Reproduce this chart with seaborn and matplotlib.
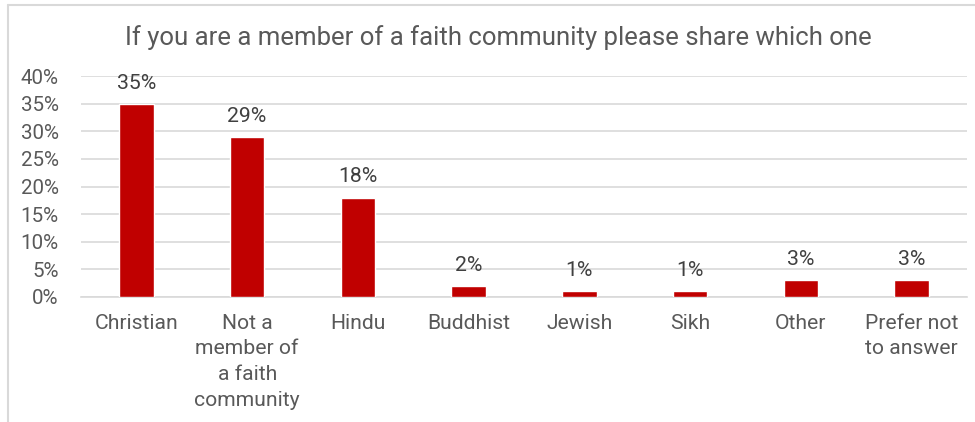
import matplotlib
matplotlib.use("Agg")
import matplotlib.pyplot as plt
from matplotlib.lines import Line2D
from matplotlib.ticker import FuncFormatter, MultipleLocator
import seaborn as sns
import pandas as pd

# Survey responses: share of respondents per faith community
categories = [
    "Christian",
    "Not a\nmember of\na faith\ncommunity",
    "Hindu",
    "Buddhist",
    "Jewish",
    "Sikh",
    "Other",
    "Prefer not\nto answer",
]
shares = [0.35, 0.29, 0.18, 0.02, 0.01, 0.01, 0.03, 0.03]
title = "If you are a member of a faith community please share which one"

sns.set_theme(style="white")
plt.rcParams["font.family"] = ["Roboto", "DejaVu Sans"]

df = pd.DataFrame({"category": categories, "share": shares})

fig = plt.figure(figsize=(9.75, 4.22), dpi=100)
ax = fig.add_axes([81 / 975, 1 - 297 / 422, (967 - 81) / 975, (297 - 76) / 422])

sns.barplot(data=df, x="category", y="share", color="#c00000",
            saturation=1, width=0.31, ax=ax, zorder=3)

ax.set_ylim(0, 0.40)
ax.yaxis.set_major_locator(MultipleLocator(0.05))
ax.yaxis.set_major_formatter(FuncFormatter(lambda v, _: f"{v * 100:.0f}%"))
ax.grid(axis="y", color="#d9d9d9", linewidth=1.2, zorder=0)
ax.set_axisbelow(True)
for side in ("top", "right", "left"):
    ax.spines[side].set_visible(False)
ax.spines["bottom"].set_color("#d9d9d9")
ax.spines["bottom"].set_linewidth(1.2)
ax.set_xlabel("")
ax.set_ylabel("")
ax.tick_params(axis="y", length=0, pad=16, labelsize=14.8, labelcolor="#595959")
ax.tick_params(axis="x", length=0, pad=12, labelsize=15.2, labelcolor="#595959")
for lbl in ax.get_xticklabels():
    lbl.set_verticalalignment("top")
    lbl.set_linespacing(1.45)

ax.bar_label(ax.containers[0], labels=[f"{v * 100:.0f}%" for v in shares],
             padding=8, fontsize=15.3, color="#404040")

fig.text(498 / 975, 1 - 38 / 422, title, ha="center", va="center",
         fontsize=18.5, color="#595959")

# chart frame
fig.add_artist(Line2D([8 / 975, 8 / 975], [0, 1 - 5 / 422],
                      transform=fig.transFigure, color="#d9d9d9", linewidth=1.5))
fig.add_artist(Line2D([8 / 975, 1], [1 - 5 / 422, 1 - 5 / 422],
                      transform=fig.transFigure, color="#d9d9d9", linewidth=1.5))

fig.savefig("out.png", dpi=100, facecolor="white")
